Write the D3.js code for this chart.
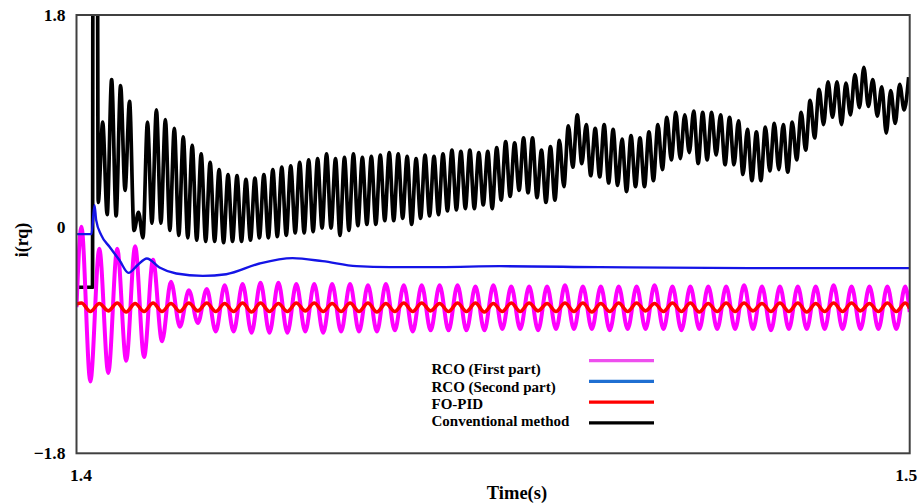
<!DOCTYPE html>
<html>
<head>
<meta charset="utf-8">
<script src="https://cdn.jsdelivr.net/npm/d3@7"></script>
<style>
  html, body { margin: 0; padding: 0; background: #fff; }
  svg { display: block; }
  text { font-family: "Liberation Serif", "Times New Roman", serif; font-weight: bold; fill: #000; }
</style>
</head>
<body>
<svg id="chart" width="923" height="504"></svg>
<script>
// ---- axes ----
const timeDomain = [1.4, 1.5];
const currentDomain = [-1.8, 1.8];
const timeTicks = [1.4, 1.5];
const currentTicks = [-1.8, 0, 1.8];

// ---- conventional method: lead-in (steady level, switching spike) ----
const convLeadT = [1.4, 1.40192, 1.40198, 1.40250];
const convLeadV = [-0.436, -0.436, 2.6, 2.6];
// successive extrema (trough, peak, trough, ...) after the spike
const convStart = 1.402605;
const convHalfCycle = 0.00053739;
const convExtrema = [
  0.26, 0.92, 0.16, 1.27, 0.15, 1.22, 0.36, 1.09, 0.03, 0.18, -0.03,
  0.92, 0.09, 1.02, 0.09, 0.94, 0.03, 0.87, -0.01, 0.80, -0.03,
  0.73, -0.05, 0.66, -0.06, 0.59, -0.06, 0.53, -0.07, 0.49, -0.06,
  0.48, -0.06, 0.45, -0.05, 0.46, -0.03, 0.49, -0.03, 0.53, -0.02,
  0.55, -0.01, 0.56, 0.01, 0.59, 0.01,
  0.61, 0.02, 0.62, 0.05, 0.66, 0.05, 0.62, -0.01, 0.63, 0.03,
  0.66, 0.07, 0.63, 0.08, 0.64, 0.08, 0.65, 0.11, 0.67, 0.11,
  0.66, 0.13, 0.64, 0.08, 0.62, 0.13, 0.65, 0.15, 0.64, 0.16,
  0.66, 0.19, 0.69, 0.20, 0.68, 0.21, 0.69, 0.21, 0.67, 0.24,
  0.68, 0.21, 0.71, 0.28, 0.76, 0.31, 0.75, 0.36, 0.79, 0.34,
  0.79, 0.30, 0.69, 0.26,
  0.72, 0.28, 0.77, 0.39, 0.89, 0.55, 0.98, 0.58, 0.90, 0.48,
  0.87, 0.47, 0.90, 0.42, 0.86, 0.40, 0.78, 0.35, 0.81, 0.39,
  0.79, 0.39, 0.84, 0.44, 0.90, 0.53, 0.96, 0.61, 1.00, 0.62,
  0.98, 0.67, 1.01, 0.58, 1.00, 0.61, 1.00, 0.65,
  0.98, 0.57, 0.96, 0.57, 0.93, 0.49, 0.86, 0.44, 0.84, 0.44,
  0.88, 0.52, 0.91, 0.53, 0.90, 0.51, 0.92, 0.61, 1.00, 0.69,
  1.10, 0.79, 1.19, 0.90, 1.25, 0.96, 1.25, 0.90, 1.24, 0.98,
  1.31, 1.04, 1.37, 1.05, 1.27, 0.97, 1.21, 0.83, 1.18, 0.91,
  1.23, 1.02, 1.29
];

// ---- RCO (first part) and FO-PID: extrema on a shared half-cycle grid ----
const fastStart = 1.400588;
const fastHalfCycle = 0.0010748;
const rcoFirstEnds = [-0.60, -0.64];   // values at 1.4 s and 1.5 s
const rcoFirstExtrema = [
  0.06, -1.21, -0.12, -1.14, -0.12, -1.04, -0.10, -1.01, -0.21, -0.88,
  -0.39, -0.76, -0.46, -0.73, -0.45, -0.80, -0.42, -0.80, -0.41,
  -0.81, -0.40, -0.81, -0.40, -0.81, -0.41, -0.80, -0.41, -0.81, -0.41,
  -0.80, -0.41, -0.80, -0.42, -0.80, -0.41, -0.79, -0.42, -0.80, -0.42,
  -0.79, -0.42, -0.79, -0.42, -0.79, -0.43, -0.79, -0.42, -0.78, -0.43,
  -0.78, -0.43, -0.79, -0.43, -0.78, -0.42, -0.78, -0.43, -0.78, -0.43,
  -0.79, -0.43, -0.78, -0.43, -0.78, -0.42, -0.78, -0.43, -0.79, -0.43,
  -0.78, -0.43, -0.78, -0.43, -0.78, -0.42, -0.78, -0.43, -0.79, -0.43,
  -0.78, -0.43, -0.78, -0.43, -0.78, -0.42, -0.78, -0.43, -0.78, -0.43,
  -0.78, -0.43, -0.78, -0.43
];
const foPidEnds = [-0.575, -0.61];
const foPidExtrema = [
  -0.565, -0.635, -0.57, -0.63, -0.565, -0.64, -0.57, -0.635, -0.565, -0.635,
  -0.57, -0.635, -0.565, -0.63, -0.565, -0.635, -0.57, -0.635, -0.565, -0.64,
  -0.565, -0.635, -0.57, -0.635, -0.565, -0.63, -0.565, -0.635, -0.57, -0.635,
  -0.565, -0.635, -0.565, -0.64, -0.57, -0.635, -0.565, -0.635, -0.565, -0.63,
  -0.57, -0.635, -0.565, -0.635, -0.565, -0.64, -0.57, -0.635, -0.565, -0.635,
  -0.565, -0.63, -0.57, -0.635, -0.565, -0.635, -0.565, -0.64, -0.57, -0.635,
  -0.565, -0.635, -0.565, -0.63, -0.57, -0.635, -0.565, -0.635, -0.565, -0.64,
  -0.57, -0.635, -0.565, -0.635, -0.565, -0.63, -0.57, -0.635, -0.565, -0.635,
  -0.565, -0.64, -0.57, -0.635, -0.565, -0.635, -0.565, -0.63, -0.57, -0.635,
  -0.565, -0.635, -0.565
];

// ---- RCO (second part): smooth response ----
const rcoSecondT = [1.4, 1.40180, 1.40216, 1.40236, 1.40297, 1.40396, 1.40516, 1.40624,
  1.40732, 1.40844, 1.40996, 1.41197, 1.41516, 1.41797, 1.42197, 1.42593, 1.42953,
  1.43361, 1.43758, 1.44358, 1.45078, 1.46279, 1.48079, 1.5];
const rcoSecondV = [0.0, 0.0, 0.238, 0.115, -0.008, -0.104, -0.214, -0.318,
  -0.255, -0.200, -0.274, -0.323, -0.343, -0.329, -0.241, -0.197, -0.222,
  -0.263, -0.271, -0.271, -0.263, -0.271, -0.279, -0.279];

// ---- legend ----
const legendLabels = ["RCO (First part)", "RCO (Second part)", "FO-PID", "Conventional method"];
const legendColors = ["#ee4fee", "#1f6fd2", "#ff0000", "#000000"];

// ---- build point lists ----
const convPts = convLeadT.map((t, i) => [t, convLeadV[i]])
  .concat(convExtrema.map((v, i) => [convStart + i * convHalfCycle, v]));
const onFastGrid = (ext, ends) => [[timeDomain[0], ends[0]]]
  .concat(ext.map((v, i) => [fastStart + i * fastHalfCycle, v]))
  .concat([[timeDomain[1], ends[1]]]);
const rcoFirstPts = onFastGrid(rcoFirstExtrema, rcoFirstEnds);
const foPidPts = onFastGrid(foPidExtrema, foPidEnds);
const rcoSecondPts = rcoSecondT.map((t, i) => [t, rcoSecondV[i]]);

// ---- drawing ----
const svg = d3.select("#chart");
const plotLeft = 76.5, plotRight = 909.7, plotTop = 15, plotBottom = 453.3;

const x = d3.scaleLinear().domain(timeDomain).range([plotLeft, plotRight]);
const y = d3.scaleLinear().domain(currentDomain).range([plotBottom, plotTop]);

svg.append("defs").append("clipPath").attr("id", "plot-clip")
  .append("rect").attr("x", plotLeft).attr("y", plotTop)
  .attr("width", plotRight - plotLeft).attr("height", plotBottom - plotTop);

const line = d3.line().x(d => x(d[0])).y(d => y(d[1])).curve(d3.curveMonotoneX);
const plot = svg.append("g").attr("clip-path", "url(#plot-clip)");

plot.append("path").datum(convPts).attr("d", line)
  .attr("fill", "none").attr("stroke", "#000").attr("stroke-width", 3.7)
  .attr("stroke-linejoin", "round");
plot.append("path").datum(rcoFirstPts).attr("d", line)
  .attr("fill", "none").attr("stroke", "#ff00ff").attr("stroke-width", 4)
  .attr("stroke-linejoin", "round");
plot.append("path").datum(foPidPts).attr("d", line)
  .attr("fill", "none").attr("stroke", "#ff0000").attr("stroke-width", 3.6)
  .attr("stroke-linejoin", "round");
plot.append("path").datum(rcoSecondPts).attr("d", line)
  .attr("fill", "none").attr("stroke", "#1414e6").attr("stroke-width", 2.4)
  .attr("stroke-linejoin", "round");

// frame
svg.append("rect").attr("x", plotLeft).attr("y", plotTop)
  .attr("width", plotRight - plotLeft).attr("height", plotBottom - plotTop)
  .attr("fill", "none").attr("stroke", "#404040").attr("stroke-width", 2);

// axes
const yAxis = svg.append("g").attr("transform", `translate(${plotLeft},0)`)
  .call(d3.axisLeft(y).tickValues(currentTicks).tickSize(0).tickPadding(11)
    .tickFormat(d => d === 0 ? "0" : d3.format(".1f")(d)));
yAxis.select(".domain").remove();
yAxis.selectAll("text").style("font-size", "17.5px")
  .filter(d => d === 0).attr("dy", "-0.1em");

const xAxis = svg.append("g").attr("transform", `translate(0,${plotBottom})`)
  .call(d3.axisBottom(x).tickValues(timeTicks).tickSize(0).tickPadding(15)
    .tickFormat(d3.format(".1f")));
xAxis.select(".domain").remove();
xAxis.selectAll("text").style("font-size", "17.5px")
  .attr("dx", (d, i) => i === 0 ? 4 : -4);

// axis titles
svg.append("text").attr("x", 517).attr("y", 498.5).attr("text-anchor", "middle")
  .style("font-size", "18.5px").text("Time(s)");
svg.append("text").attr("transform", "translate(28,240) rotate(-90)")
  .attr("text-anchor", "middle").style("font-size", "18px").text("i(rq)");

// legend
const legend = svg.append("g");
legendLabels.forEach((label, i) => {
  legend.append("text").attr("x", 431.5).attr("y", 374.3 + i * 17.2)
    .style("font-size", "15px").text(label);
  legend.append("line").attr("x1", 589).attr("x2", 654)
    .attr("y1", 360.7 + i * 20.7).attr("y2", 360.7 + i * 20.7)
    .attr("stroke", legendColors[i]).attr("stroke-width", 3.2);
});
</script>
</body>
</html>
